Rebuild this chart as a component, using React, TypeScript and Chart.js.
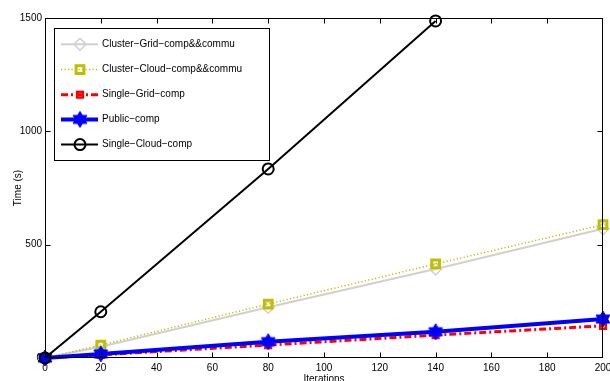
import React, { useEffect, useRef } from "react";
import { Chart, registerables } from "chart.js";
Chart.register(...registerables);

const iterations = [0, 20, 80, 140, 200];
const clusterGrid = [0, 50, 224, 393, 570];
const clusterCloud = [0, 57, 238, 415, 588];
const singleGrid = [0, 14, 57, 101, 142];
const publicComp = [0, 18, 72, 116, 172];
const singleCloud = [0, 204, 834, 1487];

const xTicks = [0, 20, 40, 60, 80, 100, 120, 140, 160, 180, 200];
const yTicks = [0, 500, 1000, 1500];

const labels = [
  "Cluster\u2212Grid\u2212comp&&commu",
  "Cluster\u2212Cloud\u2212comp&&commu",
  "Single\u2212Grid\u2212comp",
  "Public\u2212comp",
  "Single\u2212Cloud\u2212comp",
];

const FONT = "'Liberation Sans', Arial, Helvetica, sans-serif";

function pts(vals: number[]) {
  return vals.map((v, i) => ({ x: iterations[i], y: v }));
}

function makeHexagram(): HTMLCanvasElement {
  const c = document.createElement("canvas");
  c.width = 20;
  c.height = 20;
  const g = c.getContext("2d")!;
  g.fillStyle = "#0000ff";
  g.strokeStyle = "#0000ff";
  g.lineWidth = 1;
  const cx = 10, cy = 10, R = 8;
  for (const rot of [-Math.PI / 2, Math.PI / 2]) {
    g.beginPath();
    for (let k = 0; k < 3; k++) {
      const a = rot + (k * 2 * Math.PI) / 3;
      const px = cx + R * Math.cos(a), py = cy + R * Math.sin(a);
      if (k) g.lineTo(px, py);
      else g.moveTo(px, py);
    }
    g.closePath();
    g.fill();
    g.stroke();
  }
  return c;
}

export default function App() {
  const ref = useRef<HTMLCanvasElement | null>(null);
  useEffect(() => {
    document.body.style.margin = "0";
    const hex = makeHexagram();
    const specs = [
      { data: clusterGrid, color: "#d0d0d0", width: 2, dash: [] as number[], style: "rectRot", radius: 6, pbw: 1.5, order: 5 },
      { data: clusterCloud, color: "#bfbf00", width: 1.5, dash: [1.2, 2.3], style: "rect", radius: 5.5, pbw: 3, order: 4 },
      { data: singleGrid, color: "#ff0000", width: 3, dash: [7, 3, 2, 3], style: "rect", radius: 4, pbw: 2.5, order: 3 },
      { data: publicComp, color: "#0000ff", width: 4, dash: [], style: "hex", radius: 8, pbw: 1, order: 2 },
      { data: singleCloud, color: "#000000", width: 2, dash: [], style: "circle", radius: 5.5, pbw: 2, order: 1 },
    ];

    const drawMarker = (ctx: CanvasRenderingContext2D, s: any, x: number, y: number) => {
      ctx.save();
      ctx.setLineDash([]);
      ctx.strokeStyle = s.color;
      ctx.lineWidth = s.pbw;
      if (s.style === "hex") {
        ctx.drawImage(hex, x - 10, y - 10);
      } else if (s.style === "circle") {
        ctx.beginPath();
        ctx.arc(x, y, s.radius, 0, Math.PI * 2);
        ctx.stroke();
      } else if (s.style === "rect") {
        const h = s.radius * Math.SQRT1_2;
        ctx.strokeRect(x - h, y - h, 2 * h, 2 * h);
      } else if (s.style === "rectRot") {
        const r = s.radius;
        ctx.beginPath();
        ctx.moveTo(x, y - r);
        ctx.lineTo(x + r, y);
        ctx.lineTo(x, y + r);
        ctx.lineTo(x - r, y);
        ctx.closePath();
        ctx.stroke();
      }
      ctx.restore();
    };

    const frame = {
      id: "frame",
      afterDraw(chart: any) {
        const ctx: CanvasRenderingContext2D = chart.ctx;
        const { left, right, top, bottom } = chart.chartArea;
        const xs = chart.scales.x, ys = chart.scales.y;
        ctx.save();
        ctx.strokeStyle = "#000";
        ctx.lineWidth = 1;
        ctx.setLineDash([]);
        const L = Math.round(left) + 0.5, R = Math.round(right) - 0.5;
        const T = Math.round(top) + 0.5, B = Math.round(bottom) - 0.5;
        ctx.strokeRect(L, T, R - L, B - T);
        ctx.beginPath();
        for (const v of xTicks.slice(1, -1)) {
          const px = Math.round(xs.getPixelForValue(v)) + 0.5;
          ctx.moveTo(px, B); ctx.lineTo(px, B - 5);
          ctx.moveTo(px, T); ctx.lineTo(px, T + 5);
        }
        for (const v of yTicks.slice(1, -1)) {
          const py = Math.round(ys.getPixelForValue(v)) + 0.5;
          ctx.moveTo(L, py); ctx.lineTo(L + 5, py);
          ctx.moveTo(R, py); ctx.lineTo(R - 5, py);
        }
        ctx.stroke();

        ctx.fillStyle = "#000";
        ctx.font = `10px ${FONT}`;
        ctx.textAlign = "center";
        ctx.textBaseline = "middle";
        ctx.fillText("Iterations", (left + right) / 2, 379);
        ctx.save();
        ctx.translate(18, (top + bottom) / 2);
        ctx.rotate(-Math.PI / 2);
        ctx.fillText("Time (s)", 0, 0);
        ctx.restore();

        // legend
        ctx.fillStyle = "#fff";
        ctx.fillRect(54, 28, 215, 132);
        ctx.strokeStyle = "#000";
        ctx.lineWidth = 1;
        ctx.strokeRect(54.5, 28.5, 215, 132);
        const ys0 = [44.3, 69.6, 94.7, 119.4, 144.6];
        specs.forEach((s, i) => {
          const y = ys0[i];
          ctx.save();
          ctx.strokeStyle = s.color;
          ctx.lineWidth = s.width;
          ctx.setLineDash(s.dash);
          ctx.beginPath();
          ctx.moveTo(61, y);
          ctx.lineTo(98, y);
          ctx.stroke();
          ctx.restore();
          drawMarker(ctx, s, 80, y);
          ctx.fillStyle = "#000";
          ctx.textAlign = "left";
          ctx.textBaseline = "middle";
          ctx.font = `10px ${FONT}`;
          ctx.fillText(labels[i], 102, y);
        });
        ctx.restore();
      },
    };

    const datasets = specs.map((s, i) => ({
      label: labels[i],
      data: pts(s.data),
      borderColor: s.color,
      backgroundColor: s.color,
      borderWidth: s.width,
      borderDash: s.dash,
      pointStyle: s.style === "hex" ? hex : s.style,
      pointRadius: s.radius,
      pointBorderWidth: s.pbw,
      pointBorderColor: s.color,
      pointBackgroundColor: s.style === "hex" ? s.color : "rgba(0,0,0,0)",
      order: s.order,
      clip: false as any,
      tension: 0,
    }));

    const chart = new Chart(ref.current!, {
      type: "line",
      data: { datasets: datasets as any },
      options: {
        animation: false,
        responsive: false,
        devicePixelRatio: 1,
        layout: { padding: { top: 18, right: 7, left: 0, bottom: 0 }, autoPadding: false },
        plugins: { legend: { display: false }, tooltip: { enabled: false } },
        scales: {
          x: {
            type: "linear",
            min: 0,
            max: 200,
            afterFit: (s: any) => { s.height = 23; s.paddingRight = 0; s.paddingLeft = 0; },
            afterBuildTicks: (s: any) => { s.ticks = xTicks.map((v) => ({ value: v })); },
            grid: { display: false, drawTicks: false },
            border: { display: false },
            ticks: { color: "#000", font: { family: FONT, size: 10 }, padding: 4, maxRotation: 0, autoSkip: false, callback: (v: any) => String(v) },
          },
          y: {
            type: "linear",
            min: 0,
            max: 1500,
            afterFit: (s: any) => { s.width = 45; },
            afterBuildTicks: (s: any) => { s.ticks = yTicks.map((v) => ({ value: v })); },
            grid: { display: false, drawTicks: false },
            border: { display: false },
            ticks: { color: "#000", font: { family: FONT, size: 10 }, padding: 3, callback: (v: any) => String(v) },
          },
        },
      },
      plugins: [frame],
    });
    return () => chart.destroy();
  }, []);
  return (
    <div style={{ position: "fixed", left: 0, top: 0, width: 610, height: 381, background: "#fff" }}>
      <canvas ref={ref} width={610} height={381} style={{ width: 610, height: 381, display: "block" }} />
    </div>
  );
}
